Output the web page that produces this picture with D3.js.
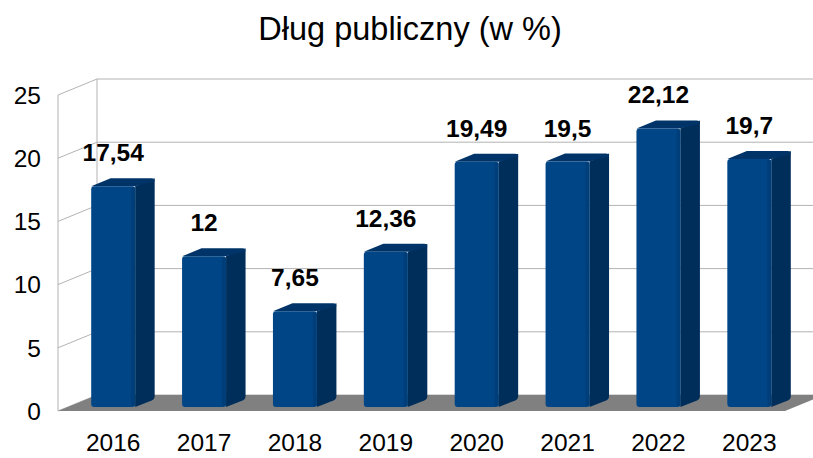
<!DOCTYPE html>
<html><head><meta charset="utf-8">
<script src="https://cdn.jsdelivr.net/npm/d3@7"></script>
<style>body{margin:0;background:#fff}svg{display:block}</style>
</head><body>
<svg id="c" width="813" height="458"></svg>
<script>
const years = ["2016","2017","2018","2019","2020","2021","2022","2023"];
const values = [17.54, 12, 7.65, 12.36, 19.49, 19.5, 22.12, 19.7];
const valueLabels = ["17,54","12","7,65","12,36","19,49","19,5","22,12","19,7"];
const yTicks = [0,5,10,15,20,25];
const title = "Dług publiczny (w %)";

const svg = d3.select("#c");
const font = "'Liberation Sans', Arial, sans-serif";
const D = {dx: 39, dy: -16};          // wall depth
const x = d3.scaleBand().domain(years).range([58, 785]).paddingInner(0.516).paddingOuter(0.258);
const y = d3.scaleLinear().domain([0, 25]).range([411, 95]);
const x0 = 58, x1 = 785;
const grid = "#b3b3b3";

// title
svg.append("text").attr("x", 410).attr("y", 40).attr("text-anchor","middle")
  .attr("font-family", font).attr("font-size", 32.5).attr("fill","#000").text(title);

// walls & gridlines
const g = svg.append("g");
yTicks.forEach(t => {
  const yf = y(t), yb = yf + D.dy;
  g.append("line").attr("x1", x0).attr("y1", yf).attr("x2", x0 + D.dx).attr("y2", yb).attr("stroke", grid);
  g.append("line").attr("x1", x0 + D.dx).attr("y1", yb).attr("x2", 830).attr("y2", yb).attr("stroke", grid);
});
g.append("line").attr("x1", x0).attr("y1", y(0)).attr("x2", x0).attr("y2", y(25)).attr("stroke", grid);
g.append("line").attr("x1", x0 + D.dx).attr("y1", y(0) + D.dy).attr("x2", x0 + D.dx).attr("y2", y(25) + D.dy).attr("stroke", grid);

// floor
svg.append("path").attr("fill", "#808080")
  .attr("d", `M${x0},${y(0)}L${x1},${y(0)}L${x1 + D.dx},${y(0) + D.dy}L${x0 + D.dx},${y(0) + D.dy}Z`);

// y tick labels
svg.append("g").selectAll("text").data(yTicks).join("text")
  .attr("x", 41).attr("y", d => y(d)).attr("dy", "0.36em").attr("text-anchor", "end")
  .attr("font-family", font).attr("font-size", 24.5).attr("fill", "#000").text(d => d);

// bars
const f0 = 0.25, f1 = 0.75;
const bw = x.bandwidth();
const bars = svg.append("g");
years.forEach((yr, i) => {
  const v = values[i];
  const lx = x(yr) + D.dx * f0, by = y(0) + D.dy * f0, ty = y(v) + D.dy * f0 + 1;
  const ddx = D.dx * (f1 - f0), ddy = D.dy * (f1 - f0);
  const r = 3;
  // side
  bars.append("path").attr("fill", "#002e5a")
    .attr("d", `M${lx + bw},${ty}L${lx + bw + ddx},${ty + ddy}L${lx + bw + ddx},${by + ddy - r}Q${lx + bw + ddx},${by + ddy} ${lx + bw + ddx - r},${by + ddy + 1.5}L${lx + bw},${by}Z`);
  // top
  bars.append("path").attr("fill", "#003468")
    .attr("d", `M${lx},${ty}L${lx + ddx},${ty + ddy}L${lx + bw + ddx - r},${ty + ddy}Q${lx + bw + ddx},${ty + ddy} ${lx + bw + ddx},${ty + ddy + r}L${lx + bw},${ty}Z`);
  // front
  bars.append("rect").attr("x", lx).attr("y", ty).attr("width", bw).attr("height", by - ty)
    .attr("rx", r).attr("fill", "#004586");
  bars.append("rect").attr("x", lx + bw - 4).attr("y", ty + 1).attr("width", 4).attr("height", by - ty - 2)
    .attr("fill", "#003a72").attr("opacity", 0.6);
  // value label
  svg.append("text").attr("x", lx + bw / 2).attr("y", ty - 25).attr("text-anchor", "middle")
    .attr("font-family", font).attr("font-weight", "bold").attr("font-size", 24.5).attr("fill", "#000")
    .text(valueLabels[i]);
  // category label
  svg.append("text").attr("x", lx + bw / 2).attr("y", 451).attr("text-anchor", "middle")
    .attr("font-family", font).attr("font-size", 24.5).attr("fill", "#000").text(yr);
});
</script>
</body></html>
